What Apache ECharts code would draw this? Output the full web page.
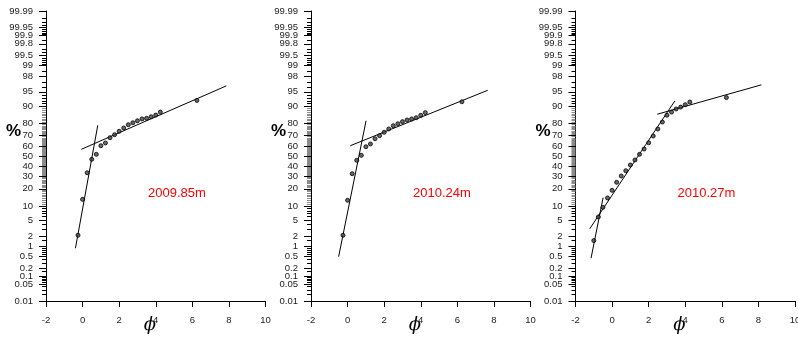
<!DOCTYPE html>
<html>
<head>
<meta charset="utf-8">
<script src="https://cdn.jsdelivr.net/npm/echarts@6/dist/echarts.min.js"></script>
<style>html,body{margin:0;padding:0;background:#fff;}#c{width:798px;height:344px;}</style>
</head>
<body>
<div id="c"></div>
<script>
// ---- data (phi, cumulative %) ----
const phi1 = [-0.25,0,0.25,0.5,0.75,1,1.25,1.5,1.75,2,2.25,2.5,2.75,3,3.25,3.5,3.75,4,4.25,6.25];
const pct1 = [2.1,13.3,33.4,46.6,51.7,60.4,63.1,68.1,70.8,73.7,76.4,78.9,80.3,81.7,82.9,83.3,84.3,85.3,87.0,92.3];
const phi2 = [-0.25,0,0.25,0.5,0.75,1,1.25,1.5,1.75,2,2.25,2.5,2.75,3,3.25,3.5,3.75,4,4.25,6.25];
const pct2 = [2.1,12.8,32.5,45.6,50.7,59.4,62.1,67.1,69.9,72.8,75.6,78.1,79.6,81.1,82.2,82.9,83.7,85.2,86.7,91.8];
const phi3 = [-1,-0.75,-0.5,-0.25,0,0.25,0.5,0.75,1,1.25,1.5,1.75,2,2.25,2.5,2.75,3,3.25,3.5,3.75,4,4.25,6.25];
const pct3 = [1.5,5.9,9.4,14.1,18.9,25.0,30.4,35.3,40.9,45.9,51.7,57.1,63.3,69.6,75.6,80.8,85.2,87.0,88.6,89.5,90.6,91.7,93.3];
// fitted lines: [phiStart, pctStart, phiEnd, pctEnd]
const lines1 = [[-0.39,0.9,0.83,78.4],[-0.07,56.8,7.86,96.4]];
const lines2 = [[-0.49,0.49,1.01,81.7],[0.15,60.4,7.66,95.4]];
const lines3 = [[-1.15,0.44,-0.49,14.3],[-1.22,3.1,3.43,92.1],[2.47,85.8,8.16,96.6]];
const sampleLabels = ['2009.85m','2010.24m','2010.27m'];
// axis tick labels
const yTickLabels = ['0.01','0.05','0.1','0.2','0.5','1','2','5','10','20','30','40','50','60','70','80','90','95','98','99','99.5','99.8','99.9','99.95','99.99'];
const yMinorTicks = [0.02,0.03,0.04,0.06,0.07,0.08,0.09,0.15,0.3,0.4,0.6,0.7,0.8,0.9,1.5,3,4,6,7,8,9,
  91,92,93,94,96,97,98.5,99.1,99.2,99.3,99.4,99.6,99.7,99.85,99.91,99.92,99.93,99.94,99.96,99.97,99.98];
const yDenseTicks = [11,12,13,14,15,16,17,18,19,21,22,23,24,25,26,27,28,29,31,32,33,34,35,36,37,38,39,41,42,43,44,45,46,47,48,49,
  51,52,53,54,55,56,57,58,59,61,62,63,64,65,66,67,68,69,71,72,73,74,75,76,77,78,79,81,82,83,84,85,86,87,88,89];
const xTicks = [-2,0,2,4,6,8,10];

// inverse standard normal CDF (probability-paper scale)
function probit(p){
  const a=[-3.969683028665376e+01,2.209460984245205e+02,-2.759285104469687e+02,1.383577518672690e+02,-3.066479806614716e+01,2.506628277459239e+00];
  const b=[-5.447609879822406e+01,1.615858368580409e+02,-1.556989798598866e+02,6.680131188771972e+01,-1.328068155288572e+01];
  const c=[-7.784894002430293e-03,-3.223964580411365e-01,-2.400758277161838e+00,-2.549732539343734e+00,4.374664141464968e+00,2.938163982698783e+00];
  const d=[7.784695709041462e-03,3.224671290700398e-01,2.445134137142996e+00,3.754408661907416e+00];
  const pl=0.02425, ph=1-pl; let q,r;
  if(p<pl){q=Math.sqrt(-2*Math.log(p));return (((((c[0]*q+c[1])*q+c[2])*q+c[3])*q+c[4])*q+c[5])/((((d[0]*q+d[1])*q+d[2])*q+d[3])*q+1);}
  if(p<=ph){q=p-0.5;r=q*q;return (((((a[0]*r+a[1])*r+a[2])*r+a[3])*r+a[4])*r+a[5])*q/(((((b[0]*r+b[1])*r+b[2])*r+b[3])*r+b[4])*r+1);}
  q=Math.sqrt(-2*Math.log(1-p));return -(((((c[0]*q+c[1])*q+c[2])*q+c[3])*q+c[4])*q+c[5])/((((d[0]*q+d[1])*q+d[2])*q+d[3])*q+1);
}
const Z = pc => probit(pc/100);
const yMin = Z(0.01), yMax = Z(99.99);
const yMajorZ = yTickLabels.map(s => Z(parseFloat(s)));
const yMinorZ = yMinorTicks.map(Z);
const yDenseZ = yDenseTicks.map(Z);
function labelFor(v){
  let best=0, bd=1e9;
  yMajorZ.forEach((z,i)=>{const dd=Math.abs(z-v); if(dd<bd){bd=dd;best=i;}});
  return yTickLabels[best];
}

const gridLefts = [46, 311, 575.5];
const FONT = 'Liberation Sans, Arial, sans-serif';
const grids=[], xAxes=[], yAxes=[], series=[], graphics=[];
const allPhi=[phi1,phi2,phi3], allPct=[pct1,pct2,pct3], allLines=[lines1,lines2,lines3];

function tickAxis(i, vals, len, color){
  return {
    type:'value', gridIndex:i, position:'left', min:yMin, max:yMax,
    axisLine:{show:false, onZero:false},
    axisTick:{show:true, length:len, customValues:vals, lineStyle:{color:color, width:1}},
    axisLabel:{show:false, customValues:vals},
    splitLine:{show:false}
  };
}

gridLefts.forEach((L,i)=>{
  grids.push({left:L, top:11, width:219.5, height:290, containLabel:false, outerBoundsMode:'none'});
  xAxes.push({
    type:'value', gridIndex:i, min:-2, max:10, interval:2,
    axisLine:{onZero:false, lineStyle:{color:'#000', width:1}},
    axisTick:{inside:false, length:6, lineStyle:{color:'#000'}},
    axisLabel:{fontSize:9.5, color:'#222', fontFamily:FONT, margin:14, showMinLabel:true, showMaxLabel:true},
    splitLine:{show:false}
  });
  yAxes.push({
    type:'value', gridIndex:i, position:'left', min:yMin, max:yMax,
    axisLine:{show:true, onZero:false, lineStyle:{color:'#000', width:1}},
    axisTick:{show:true, length:7, customValues:yMajorZ, lineStyle:{color:'#000'}},
    axisLabel:{show:true, customValues:yMajorZ, fontSize:9.5, color:'#222', fontFamily:FONT, margin:13,
      formatter:v=>labelFor(v)},
    splitLine:{show:false}
  });
  yAxes.push(tickAxis(i, yMinorZ, 4, '#000'));
  yAxes.push(tickAxis(i, yDenseZ, 4, '#8a8a8a'));
  allLines[i].forEach(ln=>{
    series.push({type:'line', xAxisIndex:i, yAxisIndex:3*i, silent:true, symbol:'none',
      lineStyle:{color:'#000', width:1}, data:[[ln[0],Z(ln[1])],[ln[2],Z(ln[3])]], z:2});
  });
  series.push({type:'scatter', xAxisIndex:i, yAxisIndex:3*i, symbol:'circle', symbolSize:4,
    itemStyle:{color:'#444', borderColor:'#000', borderWidth:1},
    data: allPhi[i].map((p,k)=>[p, Z(allPct[i][k])]), z:3});
  graphics.push({type:'text', left:L-40, top:123,
    style:{text:'%', font:'bold 17px '+FONT, fill:'#000'}});
  graphics.push({type:'text', x:L+131, y:193,
    style:{text:sampleLabels[i], font:'13px '+FONT, fill:'#ff0000', textAlign:'center', textVerticalAlign:'middle'}});
  graphics.push({type:'text', x:L+104, y:325,
    style:{text:'ϕ', font:'italic 18px DejaVu Serif', fill:'#000', textAlign:'center', textVerticalAlign:'middle'}});
});

const chart = echarts.init(document.getElementById('c'), null, {renderer:'canvas'});
chart.setOption({
  animation:false, backgroundColor:'#fff',
  grid:grids, xAxis:xAxes, yAxis:yAxes, series:series, graphic:graphics
});
</script>
</body>
</html>
